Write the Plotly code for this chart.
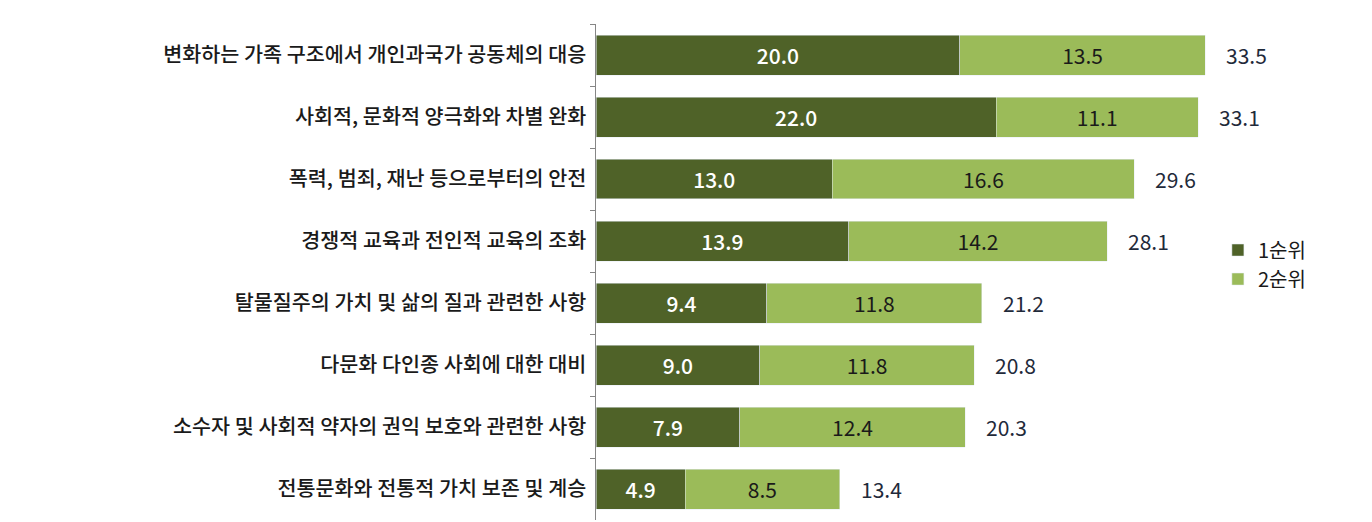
import plotly.graph_objects as go

categories = [
    "변화하는 가족 구조에서 개인과국가 공동체의 대응",
    "사회적, 문화적 양극화와 차별 완화",
    "폭력, 범죄, 재난 등으로부터의 안전",
    "경쟁적 교육과 전인적 교육의 조화",
    "탈물질주의 가치 및 삶의 질과 관련한 사항",
    "다문화 다인종 사회에 대한 대비",
    "소수자 및 사회적 약자의 권익 보호와 관련한 사항",
    "전통문화와 전통적 가치 보존 및 계승",
]
rank1 = [20.0, 22.0, 13.0, 13.9, 9.4, 9.0, 7.9, 4.9]
rank2 = [13.5, 11.1, 16.6, 14.2, 11.8, 11.8, 12.4, 8.5]
totals = [33.5, 33.1, 29.6, 28.1, 21.2, 20.8, 20.3, 13.4]
series_names = ["1순위", "2순위"]

FONT = "Noto Sans CJK KR"
fig = go.Figure()
fig.add_trace(go.Bar(
    y=categories, x=rank1, orientation="h", name=series_names[0],
    marker=dict(color="#4F6228"),
    text=[f"{v:.1f}" for v in rank1], textposition="inside", insidetextanchor="middle",
    textfont=dict(color="white", size=21, family=FONT, weight=500),
))
fig.add_trace(go.Bar(
    y=categories, x=rank2, orientation="h", name=series_names[1],
    marker=dict(color="#9BBB59"),
    text=[f"{v:.1f}" for v in rank2], textposition="inside", insidetextanchor="middle",
    textfont=dict(color="#1a1a1a", size=21, family=FONT),
))
for c, t in zip(categories, totals):
    fig.add_annotation(x=t, y=c, text=f"{t:.1f}", showarrow=False,
                       xanchor="left", xshift=19,
                       font=dict(size=21, family=FONT, color="#1f2a3a"))

fig.update_layout(
    barmode="stack", bargap=0.355,
    width=1364, height=514,
    margin=dict(l=588, r=12, t=16, b=2, autoexpand=False),
    plot_bgcolor="white", paper_bgcolor="white",
    font=dict(family=FONT, size=20, color="#1a1a1a"),
    uniformtext=dict(mode="show", minsize=10),
    legend=dict(x=0.814, y=0.515, xanchor="left", yanchor="middle",
                font=dict(size=20, family=FONT, color="#1a1a1a"),
                traceorder="normal", itemwidth=30,
                bgcolor="rgba(0,0,0,0)"),
    showlegend=True,
)
fig.update_xaxes(range=[0, 42], visible=False)
fig.update_yaxes(autorange="reversed", showline=True, linecolor="#868686", linewidth=1,
                 automargin=False,
                 ticks="outside", tickson="boundaries", ticklen=5, tickcolor="#868686",
                 tickfont=dict(size=20.7, family=FONT, color="#1a1a1a", weight=500),
                 ticksuffix=" ")
fig.write_html("out.html")
